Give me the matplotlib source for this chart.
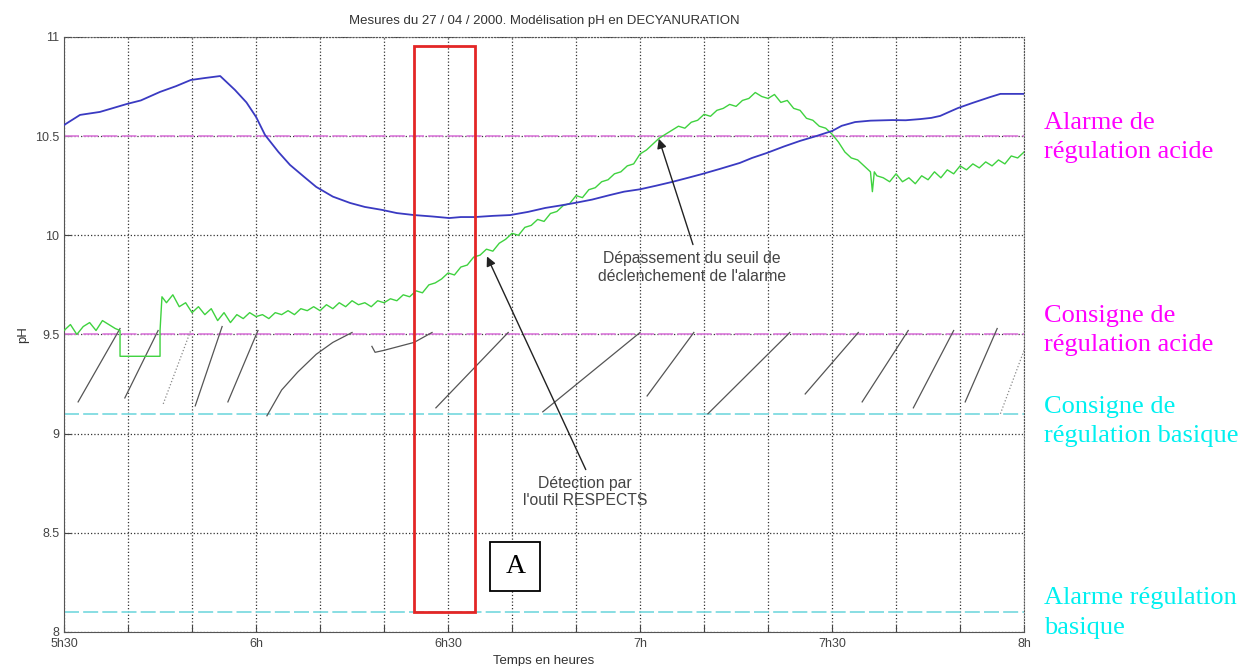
import matplotlib
matplotlib.use('Agg')
import matplotlib.pyplot as plt
from matplotlib.patches import Rectangle

# temps en minutes depuis minuit (5h30 = 330, 8h = 480)
t_bleu = [330, 332.5, 335.6, 337.5, 339.8, 342, 345, 347.5, 349.8, 352, 354.4, 356.7, 358.5,
          360, 361.4, 363.5, 365.3, 367.5, 369.4, 372, 374.7, 377, 379.7, 382, 384.7, 387.5,
          390.2, 392, 394.2, 397, 399.7, 402.5, 405.2, 407.5, 409.8, 412.5, 415.3, 417.5, 420,
          422.5, 425, 427.5, 429.7, 432.5, 435.6, 437.5, 439.8, 442.5, 445, 447.5, 450, 451.5,
          453.6, 456, 459.4, 461.5, 463.8, 465.5, 466.9, 468.5, 469.7, 472, 474.7, 476.3, 478, 480]
ph_bleu = [10.556, 10.607, 10.622, 10.640, 10.662, 10.680, 10.723, 10.752, 10.783, 10.793, 10.803,
           10.733, 10.670, 10.597, 10.506, 10.420, 10.355, 10.295, 10.244, 10.195, 10.163, 10.143,
           10.128, 10.112, 10.102, 10.095, 10.087, 10.092, 10.092, 10.098, 10.102, 10.118, 10.138,
           10.150, 10.163, 10.180, 10.203, 10.220, 10.232, 10.250, 10.269, 10.290, 10.309, 10.335,
           10.365, 10.390, 10.415, 10.448, 10.476, 10.500, 10.526, 10.552, 10.571, 10.578, 10.581,
           10.580, 10.586, 10.592, 10.602, 10.625, 10.642, 10.668, 10.697, 10.713, 10.713, 10.713]

t_vert = [330, 331, 332, 333, 334, 335, 336, 337, 338, 338.75, 338.75, 345, 345, 345.3,
          346, 347, 348, 349, 350, 351, 352, 353, 354, 355, 356, 357, 358, 359, 360, 361, 362,
          363, 364, 365, 366, 367, 368, 369, 370, 371, 372, 373, 374, 375, 376, 377, 378, 379,
          380, 381, 382, 383, 384, 385, 386, 387, 388, 389, 390, 391, 392, 393, 394, 395, 396,
          397, 398, 399, 400, 401, 402, 403, 404, 405, 406, 407, 408, 409, 410, 411, 412, 413,
          414, 415, 416, 417, 418, 419, 420, 421, 422, 423, 424, 425, 426, 427, 428, 429, 430,
          431, 432, 433, 434, 435, 436, 437, 438, 439, 440, 441, 442, 443, 444, 445, 446, 447,
          448, 449, 450, 451, 452, 453, 454, 455, 456, 456.3, 456.6, 457, 458, 459, 460, 461,
          462, 463, 464, 465, 466, 467, 468, 469, 470, 471, 472, 473, 474, 475, 476, 477, 478,
          479, 480]
ph_vert = [9.52, 9.55, 9.50, 9.54, 9.56, 9.52, 9.57, 9.55, 9.53, 9.52, 9.39, 9.39, 9.52, 9.69,
           9.66, 9.70, 9.64, 9.66, 9.61, 9.64, 9.60, 9.63, 9.57, 9.61, 9.56, 9.60, 9.58, 9.61,
           9.59, 9.60, 9.58, 9.61, 9.60, 9.62, 9.60, 9.63, 9.62, 9.64, 9.62, 9.65, 9.63, 9.66,
           9.64, 9.67, 9.65, 9.66, 9.64, 9.67, 9.66, 9.68, 9.67, 9.70, 9.69, 9.72, 9.71, 9.75,
           9.76, 9.78, 9.81, 9.80, 9.84, 9.85, 9.89, 9.90, 9.93, 9.92, 9.96, 9.98, 10.01, 10.00,
           10.04, 10.05, 10.08, 10.07, 10.11, 10.12, 10.15, 10.16, 10.20, 10.19, 10.23, 10.24,
           10.27, 10.28, 10.31, 10.32, 10.35, 10.36, 10.41, 10.43, 10.46, 10.49, 10.51, 10.53,
           10.55, 10.54, 10.57, 10.58, 10.61, 10.60, 10.63, 10.64, 10.66, 10.65, 10.68, 10.69,
           10.72, 10.70, 10.69, 10.71, 10.67, 10.68, 10.64, 10.63, 10.59, 10.58, 10.55, 10.54,
           10.51, 10.47, 10.42, 10.39, 10.38, 10.35, 10.32, 10.22, 10.32, 10.30, 10.29, 10.27,
           10.31, 10.27, 10.29, 10.26, 10.30, 10.28, 10.32, 10.29, 10.33, 10.31, 10.35, 10.33,
           10.36, 10.34, 10.37, 10.35, 10.38, 10.36, 10.40, 10.39, 10.42]

# segments gris de modelisation
seg_t = [[332.2, 338.75], [339.5, 344.7], [350.5, 354.7], [355.6, 360.3],
         [361.7, 364, 366.5, 369.4, 372, 375], [378.1, 378.6, 380, 384.7, 387.5],
         [388.1, 399.4], [404.8, 420], [421.1, 428.4], [430.6, 443.4], [445.8, 454.1],
         [454.7, 461.9], [462.7, 469], [470.8, 475.8]]
seg_ph = [[9.16, 9.53], [9.18, 9.52], [9.14, 9.54], [9.16, 9.52],
          [9.09, 9.22, 9.31, 9.40, 9.46, 9.51], [9.44, 9.41, 9.42, 9.46, 9.51],
          [9.13, 9.51], [9.11, 9.51], [9.19, 9.51], [9.10, 9.51], [9.20, 9.51],
          [9.16, 9.52], [9.13, 9.52], [9.16, 9.53]]
seg_pointilles_t = [[345.5, 349.8], [476.3, 480]]
seg_pointilles_ph = [[9.15, 9.52], [9.10, 9.42]]

seuils_magenta = [10.5, 9.5]
seuils_cyan = [9.1, 8.1]

ticks_t = [330, 340, 350, 360, 370, 380, 390, 400, 410, 420, 430, 440, 450, 460, 470, 480]
ticks_lab = ['5h30', '', '', '6h', '', '', '6h30', '', '', '7h', '', '', '7h30', '', '', '8h']

plt.rcParams['font.family'] = ['Liberation Sans', 'DejaVu Sans']

fig = plt.figure(figsize=(12.41, 6.66), dpi=100)
ax = fig.add_axes([0.0516, 0.0511, 0.7736, 0.8934])

for y in seuils_magenta:
    ax.axhline(y, color='#dc7adc', lw=1.2, dashes=(9, 2.5), zorder=2)
for y in seuils_cyan:
    ax.axhline(y, color='#74d8de', lw=1.2, dashes=(9, 2.5), zorder=2)

for xs, ys in zip(seg_t, seg_ph):
    ax.plot(xs, ys, color='#555555', lw=0.9, zorder=2.5)
for xs, ys in zip(seg_pointilles_t, seg_pointilles_ph):
    ax.plot(xs, ys, color='#888888', lw=0.9, ls=':', zorder=2.5)

ax.plot(t_vert, ph_vert, color='#3fd23f', lw=1.0, zorder=3)
ax.plot(t_bleu, ph_bleu, color='#3a3ac2', lw=1.3, zorder=3)

# cadre rouge
ax.add_patch(Rectangle((384.7, 8.1), 394.2 - 384.7, 10.955 - 8.1, fill=False,
                       ec='#e32626', lw=2, zorder=4))
# case A
ax.add_patch(Rectangle((396.6, 8.206), 7.8, 0.247, fill=True, fc='white',
                       ec='black', lw=1.3, zorder=5))
ax.text(400.5, 8.33, 'A', ha='center', va='center', fontsize=20,
        family='Liberation Serif', zorder=6)

ax.annotate('', xy=(422.8, 10.50), xytext=(428.4, 9.94),
            arrowprops=dict(arrowstyle='-|>', color='#222222', lw=1,
                            mutation_scale=14))
ax.annotate('', xy=(395.9, 9.906), xytext=(411.7, 8.806),
            arrowprops=dict(arrowstyle='-|>', color='#222222', lw=1,
                            mutation_scale=14))
ax.text(428.1, 9.836, "Dépassement du seuil de\ndéclenchement de l'alarme",
        ha='center', va='center', fontsize=11.3, color='#444444', linespacing=1.25)
ax.text(411.4, 8.706, "Détection par\nl'outil RESPECTS",
        ha='center', va='center', fontsize=11.3, color='#444444', linespacing=1.2)

ax.set_xlim(330, 480)
ax.set_ylim(8, 11)
ax.set_xticks(ticks_t)
ax.set_xticklabels(ticks_lab)
ax.set_yticks([8, 8.5, 9, 9.5, 10, 10.5, 11])
ax.set_yticklabels(['8', '8.5', '9', '9.5', '10', '10.5', '11'])
ax.tick_params(direction='in', length=5, labelsize=9, labelcolor='#444444', color='#444444')
ax.tick_params(axis='x', pad=4)
ax.grid(True, color='#333333', ls=':', lw=0.9)
ax.spines['top'].set_linestyle(':')
ax.spines['right'].set_linestyle(':')
for s in ax.spines.values():
    s.set_color('#555555')

ax.set_title('Mesures du 27 / 04 / 2000. Modélisation pH en DECYANURATION',
             fontsize=9.5, color='#333333', pad=9)
ax.set_xlabel('Temps en heures', fontsize=9.5, color='#333333', labelpad=4)
ax.set_ylabel('pH', fontsize=9.5, color='#333333', labelpad=4)

serif = 'Liberation Serif'
for txt, yy, col in [('Alarme de\nrégulation acide', 0.7935, '#ff00ff'),
                     ('Consigne de\nrégulation acide', 0.5038, '#ff00ff'),
                     ('Consigne de\nrégulation basique', 0.3671, '#00f0f0'),
                     ('Alarme régulation\nbasique', 0.0796, '#00f0f0')]:
    fig.text(0.8413, yy, txt, color=col, fontsize=19, family=serif,
             va='center', ha='left', linespacing=1.45)

fig.savefig('out.png', dpi=100)
